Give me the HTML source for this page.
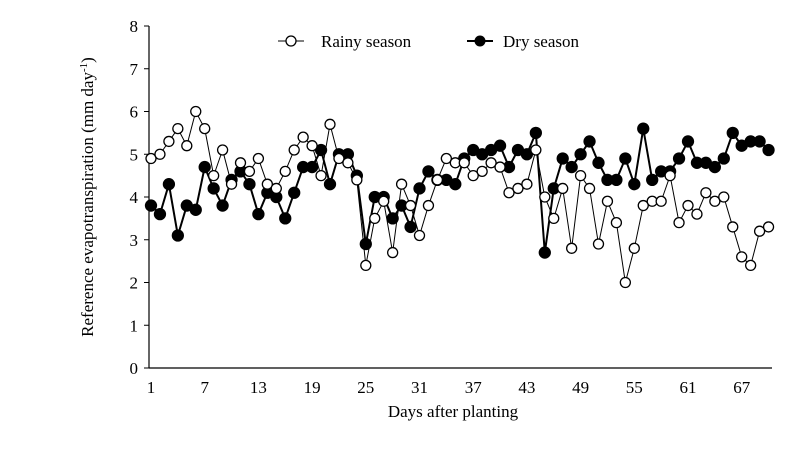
<!DOCTYPE html>
<html><head><meta charset="utf-8"><style>
html,body{margin:0;padding:0;background:#fff;}
svg{display:block;font-family:"Liberation Serif",serif;}
</style></head><body>
<svg id="chart" width="800" height="458" viewBox="0 0 800 458">
<g id="axes"></g><g id="series"></g>
<g>
  <g>
    <line x1="278" y1="41" x2="304" y2="41" stroke="#000" stroke-width="1"/>
    <circle cx="291" cy="41" r="5" fill="#fff" stroke="#000" stroke-width="1.3"/>
    <text x="321" y="47" font-size="17">Rainy season</text>
  </g>
  <g>
    <line x1="467" y1="41" x2="493" y2="41" stroke="#000" stroke-width="2"/>
    <circle cx="480" cy="41" r="5.5" fill="#000"/>
    <text x="503" y="47" font-size="17">Dry season</text>
  </g>
</g>
<text transform="translate(93,197) rotate(-90)" text-anchor="middle" font-size="17">Reference evapotranspiration (mm day<tspan font-size="11" dy="-6">-1</tspan><tspan dy="6">)</tspan></text>
<text x="453" y="417" text-anchor="middle" font-size="17">Days after planting</text>
</svg>
<script>
const days = [];
for (let d = 1; d <= 70; d++) days.push(d);
const rainy = [4.9,5.0,5.3,5.6,5.2,6.0,5.6,4.5,5.1,4.3,4.8,4.6,4.9,4.3,4.2,4.6,5.1,5.4,5.2,4.5,5.7,4.9,4.8,4.4,2.4,3.5,3.9,2.7,4.3,3.8,3.1,3.8,4.4,4.9,4.8,4.8,4.5,4.6,4.8,4.7,4.1,4.2,4.3,5.1,4.0,3.5,4.2,2.8,4.5,4.2,2.9,3.9,3.4,2.0,2.8,3.8,3.9,3.9,4.5,3.4,3.8,3.6,4.1,3.9,4.0,3.3,2.6,2.4,3.2,3.3];
const dry = [3.8,3.6,4.3,3.1,3.8,3.7,4.7,4.2,3.8,4.4,4.6,4.3,3.6,4.1,4.0,3.5,4.1,4.7,4.7,5.1,4.3,5.0,5.0,4.5,2.9,4.0,4.0,3.5,3.8,3.3,4.2,4.6,4.4,4.4,4.3,4.9,5.1,5.0,5.1,5.2,4.7,5.1,5.0,5.5,2.7,4.2,4.9,4.7,5.0,5.3,4.8,4.4,4.4,4.9,4.3,5.6,4.4,4.6,4.6,4.9,5.3,4.8,4.8,4.7,4.9,5.5,5.2,5.3,5.3,5.1];
const yTicks = [0,1,2,3,4,5,6,7,8];
const xTicks = [1,7,13,19,25,31,37,43,49,55,61,67];

const NS = "http://www.w3.org/2000/svg";
const X = d => 151 + (d - 1) * 8.95;
const Y = v => 368 - v * 42.75;
function mk(tag, attrs, parent) {
  const e = document.createElementNS(NS, tag);
  for (const k in attrs) e.setAttribute(k, attrs[k]);
  parent.appendChild(e);
  return e;
}
const axes = document.getElementById('axes');
const series = document.getElementById('series');
let el = mk('line', {x1:149, y1:Y(8), x2:149, y2:368, stroke:'#000', 'stroke-width':1.2}, axes);


el = mk('line', {x1:149, y1:368, x2:772, y2:368, stroke:'#000', 'stroke-width':1.2}, axes);


yTicks.forEach(t => {
  mk('line', {x1:144, y1:Y(t), x2:149, y2:Y(t), stroke:'#000'}, axes);
  const tx = mk('text', {x:138, y:Y(t)+6, 'text-anchor':'end', 'font-size':17}, axes);
  tx.textContent = t;
  
  
});
xTicks.forEach(t => {
  const tx = mk('text', {x:X(t), y:393, 'text-anchor':'middle', 'font-size':17}, axes);
  tx.textContent = t;
  
  
});
function draw(vals, name, filled) {
  const g = mk('g', {}, series);
  
  
  const pts = vals.map((v, i) => X(days[i]) + ',' + Y(v)).join(' ');
  const pl = mk('polyline', {points:pts, fill:'none', stroke:'#000', 'stroke-width': filled ? 2 : 1}, g);
  
  
  vals.forEach((v, i) => {
    const c = mk('circle', {cx:X(days[i]), cy:Y(v), r: filled ? 5.5 : 5, fill: filled ? '#000' : '#fff', stroke:'#000', 'stroke-width':1.3}, g);
    
    
  });
}
draw(dry, 'dry-season', true);
draw(rainy, 'rainy-season', false);
</script>
</body></html>
